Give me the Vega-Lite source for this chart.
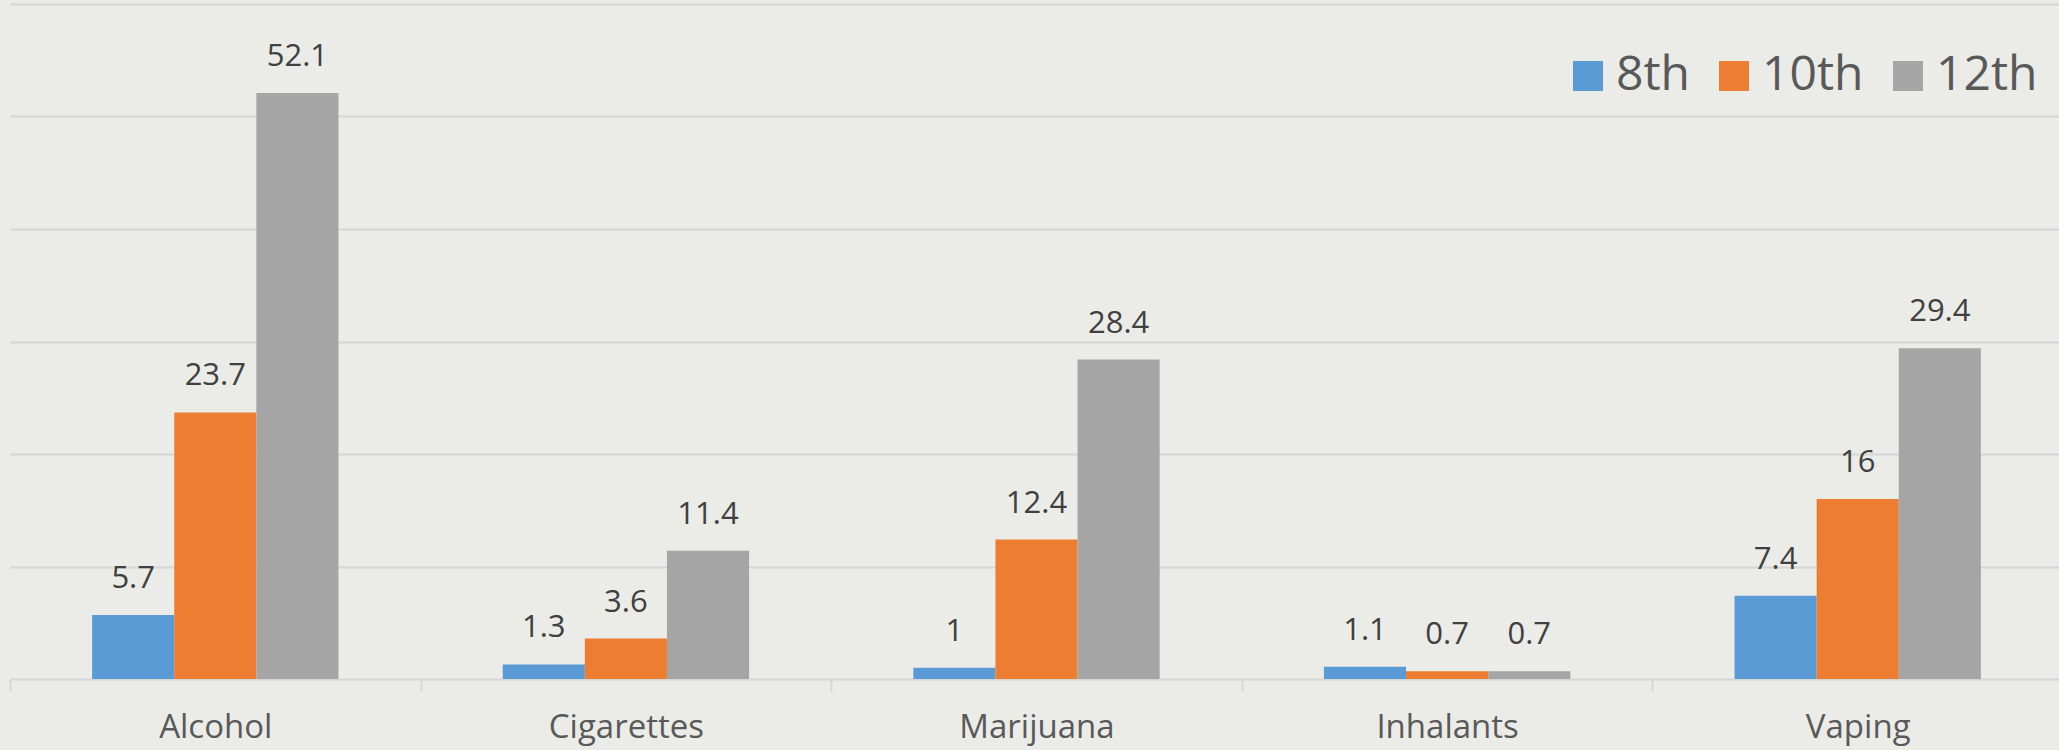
{
  "$schema": "https://vega.github.io/schema/vega-lite/v6.json",
  "autosize": {"type": "none"},
  "width": 2053,
  "height": 675,
  "padding": {"left": 10, "top": 4, "right": 0, "bottom": 71},
  "background": "#ebece8",
  "config": {
    "view": {"stroke": null},
    "font": "Open Sans"
  },
  "data": {
    "values": [
      {"substance": "Alcohol", "grade": "8th", "value": 5.7},
      {"substance": "Alcohol", "grade": "10th", "value": 23.7},
      {"substance": "Alcohol", "grade": "12th", "value": 52.1},
      {"substance": "Cigarettes", "grade": "8th", "value": 1.3},
      {"substance": "Cigarettes", "grade": "10th", "value": 3.6},
      {"substance": "Cigarettes", "grade": "12th", "value": 11.4},
      {"substance": "Marijuana", "grade": "8th", "value": 1},
      {"substance": "Marijuana", "grade": "10th", "value": 12.4},
      {"substance": "Marijuana", "grade": "12th", "value": 28.4},
      {"substance": "Inhalants", "grade": "8th", "value": 1.1},
      {"substance": "Inhalants", "grade": "10th", "value": 0.7},
      {"substance": "Inhalants", "grade": "12th", "value": 0.7},
      {"substance": "Vaping", "grade": "8th", "value": 7.4},
      {"substance": "Vaping", "grade": "10th", "value": 16},
      {"substance": "Vaping", "grade": "12th", "value": 29.4}
    ]
  },
  "encoding": {
    "x": {
      "field": "substance",
      "type": "nominal",
      "sort": ["Alcohol", "Cigarettes", "Marijuana", "Inhalants", "Vaping"],
      "scale": {"paddingInner": 0.4, "paddingOuter": 0.2},
      "axis": {
        "title": null,
        "labelAngle": 0,
        "labelFontSize": 33,
        "labelColor": "#595959",
        "labelPadding": 20,
        "domainColor": "#d6d6d6",
        "domainWidth": 2,
        "tickColor": "#d6d6d6",
        "tickWidth": 2,
        "tickSize": 12,
        "tickOffset": -205.3,
        "labelOffset": 205.3
      }
    },
    "xOffset": {
      "field": "grade",
      "type": "nominal",
      "sort": ["8th", "10th", "12th"],
      "scale": {"paddingInner": 0, "paddingOuter": 0}
    },
    "y": {
      "field": "value",
      "type": "quantitative",
      "scale": {"domain": [0, 60], "nice": false},
      "axis": {
        "title": null,
        "labels": false,
        "ticks": false,
        "domain": false,
        "values": [10, 20, 30, 40, 50, 60],
        "grid": true,
        "gridColor": "#d6d6d6",
        "gridWidth": 2
      }
    }
  },
  "layer": [
    {
      "mark": {"type": "bar"},
      "encoding": {
        "color": {
          "field": "grade",
          "type": "nominal",
          "sort": ["8th", "10th", "12th"],
          "scale": {"domain": ["8th", "10th", "12th"], "range": ["#5b9bd5", "#ed7d31", "#a5a5a5"]},
          "legend": {
            "title": null,
            "orient": "none",
            "legendX": 1554,
            "legendY": 48,
            "direction": "horizontal",
            "symbolType": "square",
            "symbolSize": 900,
            "symbolStrokeWidth": 0,
            "labelFontSize": 48,
            "labelColor": "#595959",
            "labelOffset": 4,
            "columnPadding": 20,
            "padding": 0
          }
        }
      }
    },
    {
      "mark": {"type": "text", "baseline": "alphabetic", "dy": -27, "fontSize": 31, "color": "#404040"},
      "encoding": {
        "text": {"field": "value", "type": "quantitative", "format": ".1~f"}
      }
    }
  ]
}
